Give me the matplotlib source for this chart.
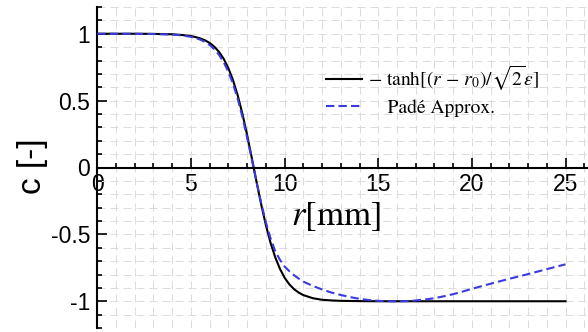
import numpy as np
import matplotlib
matplotlib.use("Agg")
from matplotlib import pyplot as plt
from matplotlib.ticker import MultipleLocator

# radius [mm] and the two profiles
r_tanh = [0, 1, 2, 3, 4, 4.5, 5, 5.25, 5.5, 5.75, 6, 6.25, 6.5, 6.75, 7, 7.25,
          7.5, 7.75, 8, 8.25, 8.5, 8.75, 9, 9.25, 9.5, 9.75, 10, 10.25, 10.5,
          10.75, 11, 11.5, 12, 12.5, 13, 14, 15, 17, 20, 25]
c_tanh = [1.0, 1.0, 1.0, 0.999, 0.996, 0.991, 0.983, 0.975, 0.965, 0.951, 0.931,
          0.903, 0.864, 0.812, 0.742, 0.651, 0.538, 0.400, 0.243, 0.071, -0.106,
          -0.276, -0.430, -0.563, -0.671, -0.757, -0.824, -0.873, -0.909, -0.935,
          -0.954, -0.977, -0.989, -0.994, -0.997, -0.999, -1.0, -1.0, -1.0, -1.0]

r_pade = [0, 1, 2, 3, 4, 4.5, 5, 5.25, 5.5, 5.75, 6, 6.25, 6.5, 6.75, 7, 7.25,
          7.5, 7.75, 8, 8.25, 8.5, 8.75, 9, 9.25, 9.5, 9.75, 10, 10.25, 10.5,
          10.75, 11, 11.5, 12, 12.5, 13, 13.5, 14, 14.5, 15, 15.5, 16, 16.5, 17,
          17.5, 18, 18.5, 19, 19.5, 20, 21, 22, 23, 24, 25]
c_pade = [1.0, 1.0, 1.0, 0.998, 0.994, 0.988, 0.977, 0.968, 0.956, 0.939, 0.916,
          0.884, 0.842, 0.787, 0.715, 0.624, 0.512, 0.377, 0.223, 0.060, -0.105,
          -0.265, -0.41, -0.53, -0.625, -0.69, -0.74, -0.775, -0.805, -0.83,
          -0.853, -0.885, -0.912, -0.935, -0.953, -0.969, -0.982, -0.991, -0.997,
          -1.0, -1.001, -0.999, -0.994, -0.987, -0.977, -0.963, -0.947, -0.928,
          -0.907, -0.869, -0.832, -0.797, -0.760, -0.724]

x_ticks = [0, 5, 10, 15, 20, 25]
y_ticks = [-1, -0.5, 0, 0.5, 1]
y_tick_labels = ["-1", "-0.5", "0", "0.5", "1"]

label_tanh = r"$-\ \mathrm{tanh}[(r\,-\,r_0)/\sqrt{2}\varepsilon]$"
label_pade = "    Padé Approx."

plt.rcParams["mathtext.fontset"] = "stix"
plt.rcParams["font.family"] = ["Liberation Sans", "DejaVu Sans"]

W, H = 588, 332
fig = plt.figure(figsize=(W / 100, H / 100), dpi=100)
ax = fig.add_axes([97.3 / W, 1 - 328 / H, 1 - 97.3 / W, (328 - 7) / H])

ax.plot(r_tanh, c_tanh, color="black", lw=1.5, label=label_tanh, zorder=3)
ax.plot(r_pade, c_pade, color="#3a3ae0", lw=1.5, ls=(0, (4, 2)), label=label_pade, zorder=4)

ax.set_xlim(0, 26.2)
ax.set_ylim(-1.2, 1.2)

ax.spines["top"].set_visible(False)
ax.spines["right"].set_visible(False)
ax.spines["bottom"].set_position(("data", 0))
for s in ("left", "bottom"):
    ax.spines[s].set_linewidth(1.5)

ax.set_xticks(x_ticks)
ax.set_yticks(y_ticks)
ax.set_yticklabels(y_tick_labels)
ax.xaxis.set_minor_locator(MultipleLocator(1))
ax.yaxis.set_minor_locator(MultipleLocator(0.1))
ax.tick_params(which="both", direction="in", width=1.2, labelsize=16.5)
ax.tick_params(which="major", length=7)
ax.tick_params(which="minor", length=3.6)
ax.tick_params(axis="x", pad=4)
ax.tick_params(axis="y", pad=5)

ax.grid(which="both", color="#dcdcdc", lw=0.72, ls=(0, (8, 5)))
ax.set_axisbelow(True)

ax.text(12.73, -0.366, r"$r[\mathrm{mm}]$", fontsize=25, ha="center", va="center")
fig.text(33 / W, 0.5, "c [-]", fontsize=24, rotation=90, ha="center", va="center")

leg = ax.legend(loc="upper left", bbox_to_anchor=(326 / W, 1 - 64 / H),
                bbox_transform=fig.transFigure, frameon=False,
                handlelength=1.85, handletextpad=0.3, borderpad=0, borderaxespad=0,
                labelspacing=0.3, prop={"family": "STIXGeneral", "size": 14})

fig.savefig("out.png", dpi=100)
